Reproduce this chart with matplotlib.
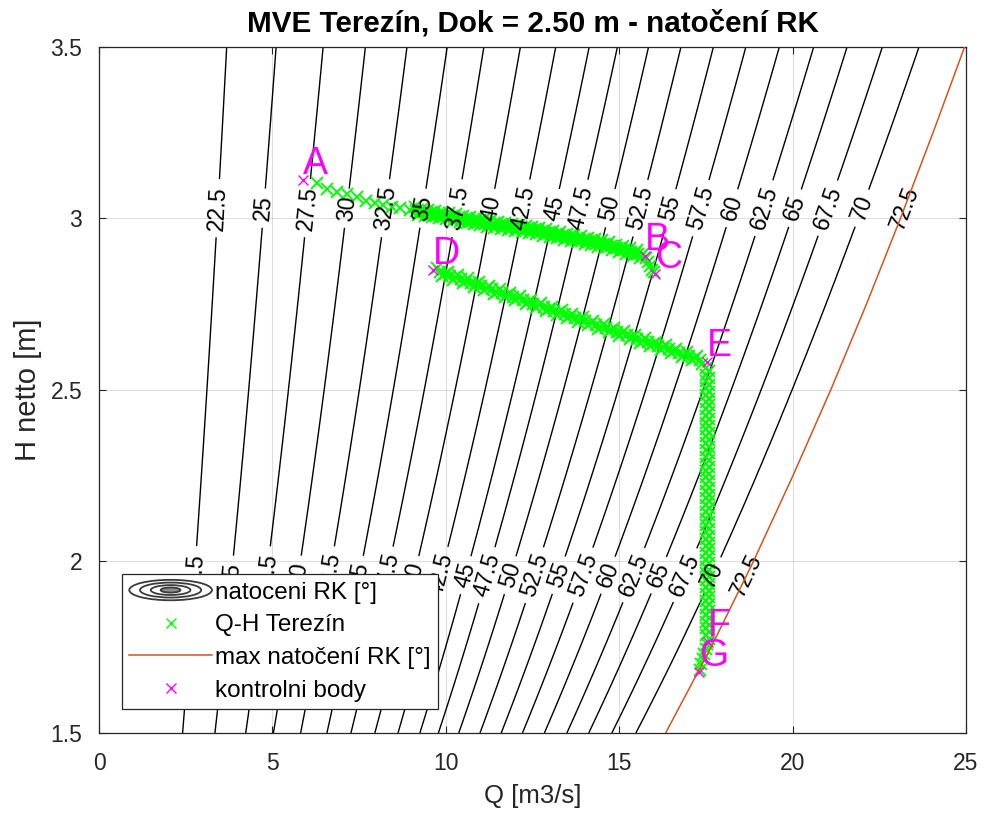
import numpy as np
import matplotlib
matplotlib.use("Agg")
import matplotlib.pyplot as plt
from matplotlib.patches import Ellipse
from matplotlib.legend_handler import HandlerBase
from matplotlib.lines import Line2D

plt.rcParams["font.family"] = ["Liberation Sans", "DejaVu Sans"]

# natoceni RK [deg] a odpovidajici jednotkovy prutok Q/sqrt(H)
rk_levels = [22.5, 25, 27.5, 30, 32.5, 35, 37.5, 40, 42.5, 45, 47.5,
             50, 52.5, 55, 57.5, 60, 62.5, 65, 67.5, 70, 72.5]
q_unit = [1.968, 2.73, 3.455, 4.106, 4.747, 5.367, 5.932, 6.495, 7.04, 7.556, 7.99,
          8.47, 8.97, 9.47, 9.97, 10.486, 11.016, 11.53, 12.074, 12.638, 13.343]

# max natoceni RK
h_max = [1.5, 1.75, 2.0, 2.25, 2.5, 2.75, 3.0, 3.25, 3.5]
q_max = [16.34, 17.65, 18.87, 20.01, 21.10, 22.13, 23.11, 24.05, 24.96]

# Q-H Terezin - useky A..B..C
q_ab = [6.28, 6.58, 6.86, 7.14, 7.43, 7.70, 7.96, 8.20, 8.44, 8.68, 8.97,
        9.1, 9.2, 9.3, 9.4, 9.5, 9.6, 9.7, 9.8, 9.9, 10.0,
        10.1, 10.2, 10.3, 10.4, 10.5, 10.6, 10.7, 10.8, 10.9, 11.0,
        11.1, 11.2, 11.3, 11.4, 11.5, 11.6, 11.7, 11.8, 11.9, 12.0,
        12.1, 12.2, 12.3, 12.4, 12.5, 12.6, 12.7, 12.8, 12.9, 13.0,
        13.1, 13.2, 13.3, 13.4, 13.5, 13.6, 13.7, 13.8, 13.9, 14.0,
        14.1, 14.2, 14.3, 14.4, 14.5, 14.6, 14.7, 14.8, 14.9, 15.0,
        15.1, 15.2, 15.3, 15.4, 15.5, 15.6, 15.7,
        15.78, 15.84, 15.90, 15.96, 16.00]
h_ab = [3.103, 3.085, 3.078, 3.071, 3.064, 3.052, 3.046, 3.039, 3.034, 3.030, 3.025,
        3.033, 3.011, 3.029, 3.007, 3.025, 3.004, 3.022, 3.000, 3.019, 2.997,
        3.015, 2.994, 3.012, 2.990, 3.008, 2.987, 3.005, 2.983, 3.001, 2.980,
        2.998, 2.976, 2.995, 2.973, 2.991, 2.970, 2.988, 2.967, 2.985, 2.963,
        2.982, 2.960, 2.979, 2.957, 2.975, 2.954, 2.972, 2.950, 2.968, 2.946,
        2.964, 2.942, 2.960, 2.938, 2.956, 2.934, 2.952, 2.930, 2.948, 2.926,
        2.944, 2.922, 2.940, 2.918, 2.936, 2.913, 2.930, 2.907, 2.924, 2.902,
        2.919, 2.896, 2.913, 2.890, 2.908, 2.885, 2.896,
        2.885, 2.873, 2.862, 2.850, 2.843]
q_ab2 = [9.15, 9.25, 9.35, 9.45, 9.55, 9.65, 9.75, 9.85, 9.95, 10.05,
         10.15, 10.25, 10.35, 10.45, 10.55, 10.65, 10.75, 10.85, 10.95, 11.05,
         11.15, 11.25, 11.35, 11.45, 11.55, 11.65, 11.75, 11.85, 11.95, 12.05,
         12.15, 12.25, 12.35, 12.45, 12.55, 12.65, 12.75, 12.85, 12.95, 13.05,
         13.15, 13.25, 13.35, 13.45, 13.55, 13.65, 13.75, 13.85, 13.95, 14.05,
         14.15, 14.25, 14.35, 14.45, 14.55, 14.65, 14.75, 14.85, 14.95, 15.05,
         15.15, 15.25, 15.35, 15.45, 15.55, 15.65]
h_ab2 = [3.022, 3.020, 3.018, 3.016, 3.015, 3.013, 3.011, 3.010, 3.008, 3.006,
         3.005, 3.003, 3.001, 2.999, 2.998, 2.996, 2.994, 2.992, 2.991, 2.989,
         2.987, 2.986, 2.984, 2.982, 2.981, 2.979, 2.978, 2.976, 2.974, 2.973,
         2.971, 2.970, 2.968, 2.966, 2.965, 2.963, 2.961, 2.959, 2.957, 2.955,
         2.953, 2.951, 2.949, 2.947, 2.945, 2.943, 2.941, 2.939, 2.937, 2.935,
         2.933, 2.931, 2.929, 2.927, 2.925, 2.922, 2.919, 2.916, 2.913, 2.911,
         2.908, 2.905, 2.902, 2.899, 2.897, 2.894]

# Q-H Terezin - usek D..E
q_de = [9.75, 9.90, 10.05, 10.20, 10.35, 10.50, 10.65, 10.80, 10.95, 11.10,
        11.25, 11.40, 11.55, 11.70, 11.85, 12.00, 12.15, 12.30, 12.45, 12.60,
        12.75, 12.90, 13.05, 13.20, 13.35, 13.50, 13.65, 13.80, 13.95, 14.10,
        14.25, 14.40, 14.55, 14.70, 14.85, 15.00, 15.15, 15.30, 15.45, 15.60,
        15.75, 15.90, 16.05, 16.20, 16.35, 16.50, 16.65, 16.80, 16.95, 17.10,
        17.25, 17.40]
h_de = [2.855, 2.832, 2.845, 2.822, 2.835, 2.812, 2.825, 2.801, 2.814, 2.791,
        2.804, 2.781, 2.794, 2.771, 2.784, 2.761, 2.773, 2.750, 2.763, 2.740,
        2.753, 2.730, 2.743, 2.720, 2.732, 2.709, 2.722, 2.699, 2.712, 2.689,
        2.702, 2.679, 2.692, 2.668, 2.681, 2.658, 2.671, 2.648, 2.661, 2.638,
        2.651, 2.628, 2.640, 2.617, 2.630, 2.607, 2.620, 2.597, 2.610, 2.587,
        2.600, 2.576]
q_de2 = [9.825, 9.975, 10.125, 10.275, 10.425, 10.575, 10.725, 10.875, 11.025, 11.175,
         11.325, 11.475, 11.625, 11.775, 11.925, 12.075, 12.225, 12.375, 12.525, 12.675,
         12.825, 12.975, 13.125, 13.275, 13.425, 13.575, 13.725, 13.875, 14.025, 14.175,
         14.325, 14.475, 14.625, 14.775, 14.925, 15.075, 15.225, 15.375, 15.525, 15.675,
         15.825, 15.975, 16.125, 16.275, 16.425, 16.575, 16.725, 16.875, 17.025, 17.175,
         17.325]
h_de2 = [2.844, 2.839, 2.833, 2.828, 2.823, 2.818, 2.813, 2.808, 2.803, 2.798,
         2.793, 2.787, 2.782, 2.777, 2.772, 2.767, 2.762, 2.757, 2.752, 2.747,
         2.741, 2.736, 2.731, 2.726, 2.721, 2.716, 2.711, 2.706, 2.700, 2.695,
         2.690, 2.685, 2.680, 2.675, 2.670, 2.665, 2.660, 2.654, 2.649, 2.644,
         2.639, 2.634, 2.629, 2.624, 2.619, 2.613, 2.608, 2.603, 2.598, 2.593,
         2.588]

# Q-H Terezin - usek E..F..G
q_eg = [17.50, 17.60, 17.50, 17.60, 17.50, 17.60, 17.50, 17.60, 17.50, 17.60,
        17.50, 17.60, 17.50, 17.60, 17.50, 17.60, 17.50, 17.60, 17.50, 17.60,
        17.50, 17.60, 17.50, 17.60, 17.50, 17.60, 17.50, 17.60, 17.50, 17.60,
        17.50, 17.60, 17.50, 17.60, 17.50, 17.60, 17.50, 17.60, 17.50, 17.60,
        17.50, 17.60, 17.50, 17.60, 17.50, 17.60, 17.50, 17.60, 17.50, 17.60,
        17.50, 17.60, 17.50, 17.60, 17.50, 17.60, 17.50, 17.60, 17.50, 17.60,
        17.50, 17.60, 17.50, 17.60, 17.50, 17.60, 17.50, 17.60, 17.50, 17.60,
        17.50, 17.60, 17.50, 17.60, 17.50, 17.60, 17.50, 17.60, 17.50, 17.60,
        17.53, 17.49, 17.45, 17.41, 17.37, 17.34]
h_eg = [2.565, 2.555, 2.545, 2.535, 2.525, 2.515, 2.505, 2.495, 2.485, 2.475,
        2.465, 2.455, 2.445, 2.435, 2.425, 2.415, 2.405, 2.395, 2.385, 2.375,
        2.365, 2.355, 2.345, 2.335, 2.325, 2.315, 2.305, 2.295, 2.285, 2.275,
        2.265, 2.255, 2.245, 2.235, 2.225, 2.215, 2.205, 2.195, 2.185, 2.175,
        2.165, 2.155, 2.145, 2.135, 2.125, 2.115, 2.105, 2.095, 2.085, 2.075,
        2.065, 2.055, 2.045, 2.035, 2.025, 2.015, 2.005, 1.995, 1.985, 1.975,
        1.965, 1.955, 1.945, 1.935, 1.925, 1.915, 1.905, 1.895, 1.885, 1.875,
        1.865, 1.855, 1.845, 1.835, 1.825, 1.815, 1.805, 1.795, 1.785, 1.775,
        1.76, 1.745, 1.73, 1.715, 1.70, 1.685]

# kontrolni body
pt_names = ["A", "B", "C", "D", "E", "F", "G"]
pt_q = [5.89, 15.74, 16.03, 9.64, 17.52, 17.56, 17.30]
pt_h = [3.112, 2.891, 2.838, 2.850, 2.581, 1.765, 1.678]

GREEN = "#00ff00"
MAGENTA = "#ff00ff"
ORANGE = "#d95319"
AXCOL = "#262626"


class HandlerRings(HandlerBase):
    """ikona vrstevnic do legendy - soustredne elipsy"""
    def create_artists(self, legend, orig_handle, xdescent, ydescent,
                       width, height, fontsize, trans):
        cx = -xdescent + width / 2
        cy = -ydescent + height / 2
        arts = []
        for k, (fw, fh) in enumerate([(1.0, 1.2), (0.74, 0.88), (0.48, 0.58), (0.24, 0.3)]):
            e = Ellipse((cx, cy), width * fw, height * fh, transform=trans,
                        facecolor="#8c8c8c" if k == 3 else "none",
                        edgecolor="#3a3a3a", lw=1.3)
            arts.append(e)
        return arts


fig = plt.figure(figsize=(9.94, 8.21), dpi=100)
ax = fig.add_axes([0.0996, 0.1072, 0.8722, 0.8356])

# pole natoceni RK v rovine Q-H
qq = np.linspace(0, 25, 501)
hh = np.linspace(1.5, 3.5, 201)
Qg, Hg = np.meshgrid(qq, hh)
q_ext = [2 * q_unit[0] - q_unit[1]] + q_unit + [2 * q_unit[-1] - q_unit[-2]]
rk_ext = [rk_levels[0] - 2.5] + rk_levels + [rk_levels[-1] + 2.5]
Z = np.interp(Qg / np.sqrt(Hg), q_ext, rk_ext)

lws = [1.0] * (len(rk_levels) - 1) + [0.0]
cs = ax.contour(Qg, Hg, Z, levels=rk_levels, colors="k", linewidths=lws, zorder=1)

label_pos = []
for q in q_unit:
    label_pos.append((q * np.sqrt(3.03), 3.03))
    label_pos.append((q * np.sqrt(1.96), 1.96))
ax.clabel(cs, levels=rk_levels, inline=True, inline_spacing=7,
          fmt=lambda v: f"{v:g}", fontsize=16.5, colors="k", manual=label_pos)

for qs, hs in [(q_ab, h_ab), (q_ab2, h_ab2), (q_de, h_de), (q_de2, h_de2), (q_eg, h_eg)]:
    ax.plot(qs, hs, "x", color=GREEN, ms=8, mew=1.4, zorder=2)
ax.plot(q_max, h_max, "-", color=ORANGE, lw=1.1, zorder=3)
ax.plot(pt_q, pt_h, "x", color=MAGENTA, ms=7, mew=1.0, zorder=4)
for name, q, h in zip(pt_names, pt_q, pt_h):
    ax.text(q, h + 0.018, name, color=MAGENTA, fontsize=27,
            ha="left", va="baseline", zorder=6)

ax.set_xlim(0, 25)
ax.set_ylim(1.5, 3.5)
ax.set_xticks([0, 5, 10, 15, 20, 25])
ax.set_yticks([1.5, 2, 2.5, 3, 3.5])
ax.set_yticklabels(["1.5", "2", "2.5", "3", "3.5"])
ax.grid(True, color=AXCOL, alpha=0.15, lw=0.8)
ax.set_axisbelow(True)
ax.tick_params(direction="in", top=True, right=True, length=5, width=0.8,
               labelsize=16.5, colors=AXCOL)
ax.tick_params(axis="x", pad=14)
ax.tick_params(axis="y", pad=12)
for sp in ax.spines.values():
    sp.set_color(AXCOL)
    sp.set_linewidth(0.9)

ax.set_xlabel("Q [m3/s]", fontsize=18.5, color=AXCOL, labelpad=6)
ax.set_ylabel("H netto [m]", fontsize=21, color=AXCOL, labelpad=6)
ax.set_title("MVE Terezín, Dok = 2.50 m - natočení RK", fontsize=21.3,
             fontweight="bold", color="k", pad=11)

rings = object()
handles = [rings,
           Line2D([], [], ls="none", marker="x", color=GREEN, ms=7, mew=1.0),
           Line2D([], [], color=ORANGE, lw=1.1),
           Line2D([], [], ls="none", marker="x", color=MAGENTA, ms=7, mew=1.0)]
labels = ["natoceni RK [°]", "Q-H Terezín", "max natočení RK [°]", "kontrolni body"]
leg = ax.legend(handles, labels, handler_map={rings: HandlerRings()},
                loc="lower left", bbox_to_anchor=(0.0265, 0.035), borderaxespad=0,
                fontsize=17.5, handlelength=3.4, handletextpad=0.12, borderpad=0.3,
                labelspacing=0.44, fancybox=False, framealpha=1, edgecolor=AXCOL)
leg.get_frame().set_linewidth(0.9)
leg.set_zorder(5)

fig.savefig("out.png", dpi=100)
